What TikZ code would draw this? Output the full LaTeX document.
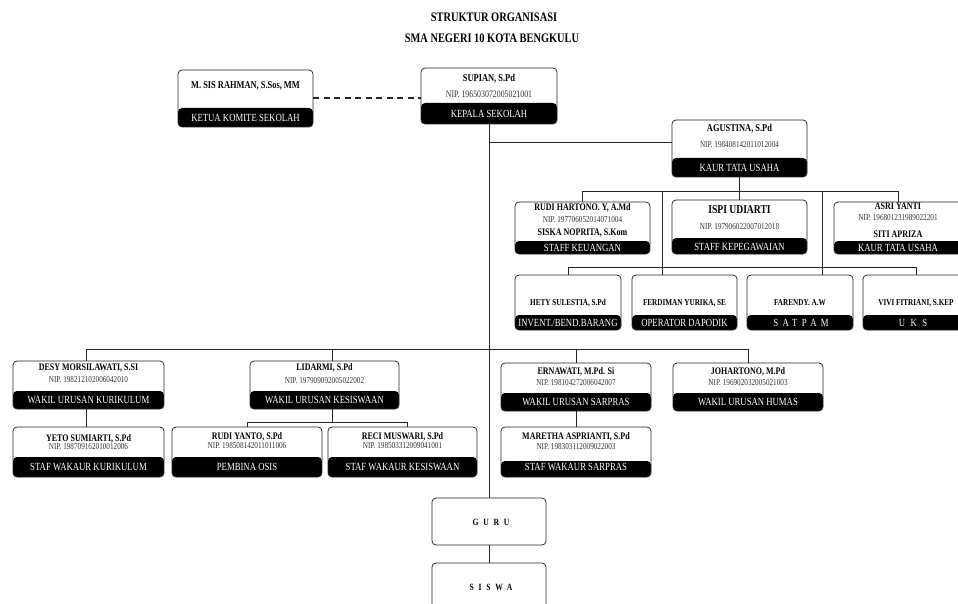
\documentclass[tikz,border=0pt]{standalone}
\usepackage{fontspec}
\setmainfont{Liberation Serif}[FakeStretch=0.8]
\begin{document}
\begin{tikzpicture}[x=1pt,y=-1pt]
\tikzset{
 box/.style={draw=black!85, line width=0.75pt, rounded corners=4pt, fill=white, inner sep=0pt},
 band/.style={path picture={\fill[black] ([yshift=#1]path picture bounding box.south west) rectangle (path picture bounding box.south east);}},
 title/.style={font=\bfseries\fontsize{13}{13}\selectfont, inner sep=0pt},
 nm/.style={font=\bfseries\fontsize{10}{10}\selectfont, inner sep=0pt},
 nmbig/.style={font=\bfseries\fontsize{10.5}{10.5}\selectfont, inner sep=0pt},
 nmsm/.style={font=\bfseries\fontsize{9}{9}\selectfont, inner sep=0pt},
 nip/.style={font=\fontsize{9}{9}\selectfont, text=black!80, inner sep=0pt},
 bt/.style={font=\fontsize{10.9}{10.9}\selectfont, text=white, inner sep=0pt},
 spaced/.style={font=\bfseries\fontsize{9.5}{9.5}\selectfont\addfontfeature{LetterSpace=50}, inner sep=0pt},
 conn/.style={draw=black!85, line width=0.75pt},
 dconn/.style={draw=black!85, line width=2pt, dash pattern=on 6pt off 4.5pt},
}
\newcommand{\ob}[6]{\node[box, band=#6pt, minimum width=#4pt, minimum height=#5pt] (#1) at (#2,#3) {};}
\useasboundingbox (0,0) rectangle (958,604);
\clip (0,0) rectangle (958,604);

% title
\node[title] (t1) at (494,17) {STRUKTUR ORGANISASI};
\node[title] (t2) at (492,38) {SMA NEGERI 10 KOTA BENGKULU};

% helper coordinates
\coordinate (j1) at (489,142);
\coordinate (h1) at (739.5,191);
\coordinate (v1) at (662,191);
\coordinate (v2) at (822,191);
\coordinate (h2) at (489,267);
\coordinate (h3) at (489,349);
\coordinate (dl) at (86,349);
\coordinate (ll) at (332,349);
\coordinate (h4) at (332,422);
\coordinate (rr) at (407,422);

% boxes
\ob{komite}{245.5}{98.5}{135}{57}{19}
\ob{kepsek}{489}{96}{136}{56}{21}
\ob{kaur}{739.5}{148.5}{135}{57}{19}
\ob{keu}{582.5}{228}{135}{52}{13}
\ob{peg}{739.5}{227}{135}{54}{16}
\ob{asri}{898}{228}{128}{52}{13}
\ob{hety}{568}{302.5}{106}{55}{15}
\ob{ferd}{684.5}{302.5}{105}{55}{15}
\ob{farendy}{800}{302.5}{106}{55}{15}
\ob{vivi}{916}{302.5}{106}{55}{15}
\ob{desy}{88.5}{385}{151}{48}{18}
\ob{lidarmi}{324.5}{385}{149}{48}{18}
\ob{yeto}{88.5}{452}{151}{50}{20}
\ob{rudi}{247}{452}{150}{50}{20}
\ob{reci}{402.5}{452}{149}{50}{20}
\ob{erna}{576}{387}{150}{48}{18}
\ob{joha}{748}{387}{150}{48}{18}
\ob{maretha}{576}{452}{150}{50}{16}
\node[box, minimum width=114pt, minimum height=47pt] (guru) at (489,521.5) {};
\node[box, minimum width=114pt, minimum height=48pt] (siswa) at (489,587) {};

% connector lines
\draw[dconn] (komite.east) -- (komite.east -| kepsek.west);
\draw[conn] (kepsek.south) -- (guru.north);
\draw[conn] (guru.south) -- (siswa.north);
\draw[conn] (j1) -- (j1 -| kaur.west);
\draw[conn] (kaur.south) -- (h1);
\draw[conn] (h1 -| keu.north) -- (h1 -| asri.north);
\draw[conn] (h1 -| keu.north) -- (keu.north);
\draw[conn] (h1) -- (peg.north);
\draw[conn] (h1 -| asri.north) -- (asri.north);
\draw[conn] (v1) -- (v1 |- ferd.north);
\draw[conn] (v2) -- (v2 |- farendy.north);
\draw[conn] (h2 -| hety.north) -- (h2 -| vivi.north);
\draw[conn] (h2 -| hety.north) -- (hety.north);
\draw[conn] (h2 -| vivi.north) -- (vivi.north);
\draw[conn] (dl) -- (h3 -| joha.north);
\draw[conn] (dl) -- (dl |- desy.north);
\draw[conn] (dl |- desy.south) -- (dl |- yeto.north);
\draw[conn] (ll) -- (ll |- lidarmi.north);
\draw[conn] (h3 -| erna.north) -- (erna.north);
\draw[conn] (h3 -| joha.north) -- (joha.north);
\draw[conn] (ll |- lidarmi.south) -- (h4);
\draw[conn] (h4 -| rudi.north) -- (rr);
\draw[conn] (h4 -| rudi.north) -- (rudi.north);
\draw[conn] (rr) -- (rr |- reci.north);
\draw[conn] (erna.south) -- (maretha.north);

% texts
\node[nmbig] (komite-n) at (245.5,86) {M. SIS RAHMAN, S.Sos, MM};
\node[bt] (komite-b) at (245.5,117.5) {KETUA KOMITE SEKOLAH};

\node[nmbig] (kepsek-n) at (489,79) {SUPIAN, S.Pd};
\node[nip, font=\fontsize{9.8}{9.8}\selectfont] (kepsek-p) at (489,94) {NIP. 196503072005021001};
\node[bt] (kepsek-b) at (489,114) {KEPALA SEKOLAH};

\node[nmbig] (kaur-n) at (739.5,129) {AGUSTINA, S.Pd};
\node[nip] (kaur-p) at (739.5,145) {NIP. 198408142011012004};
\node[bt] (kaur-b) at (739.5,167.5) {KAUR TATA USAHA};

\node[nm] (keu-n) at (582.5,208) {RUDI HARTONO. Y, A.Md};
\node[nip] (keu-p) at (582.5,220) {NIP. 197706052014071004};
\node[nm] (keu-n2) at (582.5,233) {SISKA NOPRITA, S.Kom};
\node[bt] (keu-b) at (582.5,248) {STAFF KEUANGAN};

\node[nm, font=\bfseries\fontsize{12}{12}\selectfont] (peg-n) at (739.5,210) {ISPI UDIARTI};
\node[nip] (peg-p) at (739.5,227) {NIP. 197906022007012018};
\node[bt] (peg-b) at (739.5,246.5) {STAFF KEPEGAWAIAN};

\node[nm] (asri-n) at (898,206) {ASRI YANTI};
\node[nip] (asri-p) at (898,218) {NIP. 196801231989022201};
\node[nm] (asri-n2) at (898,234) {SITI APRIZA};
\node[bt] (asri-b) at (898,248) {KAUR TATA USAHA};

\node[nmsm] (hety-n) at (568,303) {HETY SULESTIA, S.Pd};
\node[bt] (hety-b) at (568,322.5) {INVENT./BEND.BARANG};
\node[nmsm] (ferd-n) at (684.5,303) {FERDIMAN YURIKA, SE};
\node[bt] (ferd-b) at (684.5,322.5) {OPERATOR DAPODIK};
\node[nmsm] (farendy-n) at (800,303) {FARENDY. A.W};
\node[bt, font=\fontsize{10.9}{10.9}\selectfont\addfontfeature{LetterSpace=40}] (farendy-b) at (801,322.5) {SATPAM};
\node[nmsm] (vivi-n) at (916,303) {VIVI FITRIANI, S.KEP};
\node[bt, font=\fontsize{10.9}{10.9}\selectfont\addfontfeature{LetterSpace=50}] (vivi-b) at (913,322.5) {UKS};

\node[nm] (desy-n) at (88.5,368) {DESY MORSILAWATI, S.SI};
\node[nip] (desy-p) at (88.5,380) {NIP. 198212102006042010};
\node[bt] (desy-b) at (88.5,400) {WAKIL URUSAN KURIKULUM};

\node[nm] (lidarmi-n) at (324.5,368) {LIDARMI, S.Pd};
\node[nip] (lidarmi-p) at (324.5,381) {NIP. 197909092005022002};
\node[bt] (lidarmi-b) at (324.5,400) {WAKIL URUSAN KESISWAAN};

\node[nm] (yeto-n) at (88.5,438.5) {YETO SUMIARTI, S.Pd};
\node[nip] (yeto-p) at (88.5,447) {NIP. 198709162010012006};
\node[bt] (yeto-b) at (88.5,467) {STAF WAKAUR KURIKULUM};

\node[nm] (rudi-n) at (247,437) {RUDI YANTO, S.Pd};
\node[nip] (rudi-p) at (247,446) {NIP. 198508142011011006};
\node[bt] (rudi-b) at (247,467) {PEMBINA OSIS};

\node[nm] (reci-n) at (402.5,437) {RECI MUSWARI, S.Pd};
\node[nip] (reci-p) at (402.5,446) {NIP. 198503312009041001};
\node[bt] (reci-b) at (402.5,467) {STAF WAKAUR KESISWAAN};

\node[nm] (erna-n) at (576,372) {ERNAWATI, M.Pd. Si};
\node[nip] (erna-p) at (576,383) {NIP. 198104272006042007};
\node[bt] (erna-b) at (576,402) {WAKIL URUSAN SARPRAS};

\node[nm] (joha-n) at (748,372) {JOHARTONO, M.Pd};
\node[nip] (joha-p) at (748,383) {NIP. 196902032005021003};
\node[bt] (joha-b) at (748,402) {WAKIL URUSAN HUMAS};

\node[nm] (maretha-n) at (576,437) {MARETHA ASPRIANTI, S.Pd};
\node[nip] (maretha-p) at (576,446.5) {NIP. 198303112009022003};
\node[bt] (maretha-b) at (576,467) {STAF WAKAUR SARPRAS};

\node[spaced] (guru-t) at (491,522) {GURU};
\node[spaced] (siswa-t) at (491,587) {SISWA};
\end{tikzpicture}
\end{document}
